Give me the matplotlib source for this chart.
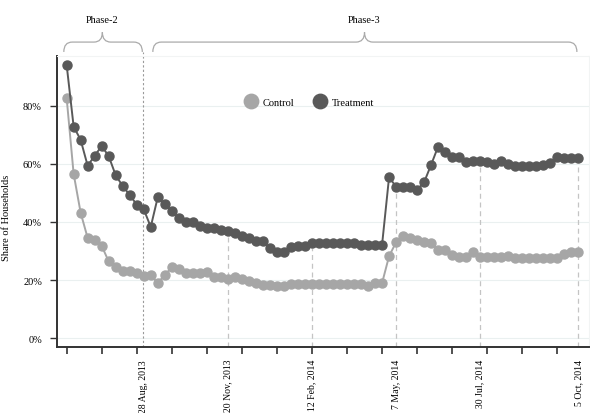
import numpy as np
import matplotlib
matplotlib.use("Agg")
import matplotlib.pyplot as plt
import matplotlib.transforms as mtransforms
from matplotlib.path import Path
from matplotlib.patches import PathPatch

plt.rcParams["font.family"] = ["Liberation Serif", "DejaVu Serif"]

# weekly shares (%)
treatment = [94.2, 72.9, 68.3, 59.4, 62.8, 66.2, 62.7, 56.1, 52.4, 49.3,
             46.0, 44.4, 38.3, 48.5, 46.2, 43.7, 41.4, 40.1, 40.1, 38.6,
             37.9, 37.9, 37.4, 36.8, 36.1, 35.3, 34.6, 33.3, 33.3, 31.0,
             29.8, 29.8, 31.3, 31.8, 31.8, 32.6, 32.6, 32.6, 32.6, 32.6,
             32.6, 32.6, 32.1, 32.1, 32.1, 32.1, 55.4, 52.2, 52.2, 52.2,
             51.1, 53.7, 59.7, 66.0, 64.0, 62.3, 62.3, 60.6, 61.0, 61.0,
             60.6, 59.9, 61.1, 59.9, 59.2, 59.2, 59.2, 59.2, 59.7, 60.3,
             62.5, 62.0, 62.0, 62.0]
control = [82.8, 56.6, 43.2, 34.5, 33.8, 31.8, 26.4, 24.4, 23.0, 23.0,
           22.3, 21.4, 21.6, 19.0, 21.7, 24.4, 23.8, 22.3, 22.3, 22.3,
           22.6, 21.1, 21.1, 20.3, 21.0, 20.3, 19.5, 18.9, 18.3, 18.2,
           18.1, 18.1, 18.8, 18.8, 18.8, 18.8, 18.8, 18.8, 18.8, 18.8,
           18.8, 18.8, 18.8, 17.8, 18.9, 18.9, 28.2, 33.0, 35.3, 34.6,
           33.9, 33.2, 32.6, 30.5, 30.5, 28.6, 27.9, 27.9, 29.5, 27.9,
           27.9, 27.9, 27.9, 28.2, 27.5, 27.5, 27.5, 27.5, 27.5, 27.5,
           27.5, 29.0, 29.5, 29.5]

date_pos = [10.9, 23, 35, 47, 59, 73]
date_labels = ["28 Aug, 2013", "20 Nov, 2013", "12 Feb, 2014",
               "7 May, 2014", "30 Jul, 2014", "5 Oct, 2014"]

phases = ["Phase-2", "Phase-3"]
phase_spans = [(-0.4, 10.8), (12.3, 72.8)]
phase_mid = [5.1, 42.5]

x = np.arange(len(treatment))

fig = plt.figure(figsize=(5.9, 4.14), dpi=100)
ax = fig.add_axes([0.097, 0.160, 0.901, 0.703])

# date reference lines
ax.vlines(date_pos[0], -3, 98.6, colors="#9a9a9a", linestyles=(0, (2, 2)),
          linewidth=0.8, clip_on=False, zorder=1)
for p in date_pos[1:]:
    ax.vlines(p, -3, treatment[int(p)] - 1.5, colors="#c4c4c4",
              linestyles=(0, (4, 3)), linewidth=0.9, zorder=1)

ax.plot(x, control, color="#a6a6a6", lw=1.4, marker="o", ms=6.5,
        mec="#a6a6a6", label="Control", zorder=3)
ax.plot(x, treatment, color="#595959", lw=1.4, marker="o", ms=6.5,
        mec="#595959", label="Treatment", zorder=4)

ax.set_xlim(-1.34, 74.5)
ax.set_ylim(-3, 97.3)
ax.set_yticks([0, 20, 40, 60, 80])
ax.set_yticklabels(["0%", "20%", "40%", "60%", "80%"])
ax.set_xticks(np.arange(0, 71, 5))
ax.set_xticklabels([])
ax.tick_params(axis="x", length=5, width=1.2, color="#333333")
ax.tick_params(axis="y", length=5, width=1.0, color="#333333", pad=6,
               labelsize=7.5)
ax.set_ylabel("Share of Households", fontsize=7.5)
ax.yaxis.set_label_coords(-0.087, 0.446)

# date labels under the reference lines
trans = mtransforms.blended_transform_factory(ax.transData, ax.transAxes)
for p, lab in zip(date_pos, date_labels):
    ax.text(p, -0.042, lab, transform=trans, rotation=90, ha="center",
            va="top", fontsize=7, clip_on=False)

ax.grid(axis="y", color="#eaf0f0", lw=0.8)
ax.set_axisbelow(True)
for s in ["top", "right"]:
    ax.spines[s].set_color("#f2f4f4")
    ax.spines[s].set_linewidth(0.8)
for s in ["left", "bottom"]:
    ax.spines[s].set_color("#333333")
    ax.spines[s].set_linewidth(1.4)

leg = ax.legend(loc="center", bbox_to_anchor=(0.475, 0.84), ncol=2,
                frameon=False, fontsize=7.5, markerscale=1.6,
                handlelength=1.0, columnspacing=2.0, handletextpad=0.6)
for h in leg.legend_handles:
    h.set_linestyle("none")


def brace(x0, x1, xm, yb=98.6, yh=102.0, yt=105.4, r=1.2):
    verts = [(x0, yb), (x0, yh), (x0 + r, yh),
             (xm - r, yh), (xm, yh), (xm, yt),
             (xm, yh), (xm + r, yh),
             (x1 - r, yh), (x1, yh), (x1, yb)]
    codes = [Path.MOVETO, Path.CURVE3, Path.CURVE3,
             Path.LINETO, Path.CURVE3, Path.CURVE3,
             Path.CURVE3, Path.CURVE3,
             Path.LINETO, Path.CURVE3, Path.CURVE3]
    patch = PathPatch(Path(verts, codes), fill=False, edgecolor="#aaaaaa",
                      lw=0.9, clip_on=False)
    ax.add_patch(patch)


for name, (a, b), m in zip(phases, phase_spans, phase_mid):
    brace(a, b, m)
    ax.text(m, 109.8, name, ha="center", va="center", fontsize=7.5,
            clip_on=False)

fig.savefig("out.png", dpi=100)
